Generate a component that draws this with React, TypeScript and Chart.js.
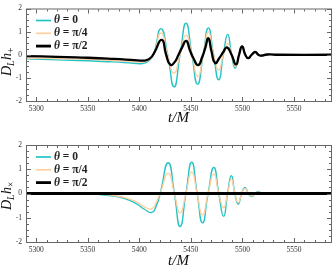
import React, { useEffect, useRef } from "react";
import { Chart, registerables } from "chart.js";
Chart.register(...registerables);

const SERIF = "'Liberation Serif', 'DejaVu Serif', serif";
const X_MIN = 5290;
const X_MAX = 5586;
const xTicks = [5300, 5350, 5400, 5450, 5500, 5550];
const yTicks = [-2, -1, 0, 1, 2];
const seriesLabels = ["θ = 0", "θ = π/4", "θ = π/2"];
const seriesColors = ["#25c3c5", "#ffcf9f", "#000000"];

// ---- top panel: D_L h_+ ----
const tPlus0 = [5290, 5320, 5350, 5375, 5395, 5403, 5409, 5413.6, 5421, 5427.5, 5433.7, 5439.5, 5445.3, 5451, 5456.5, 5462, 5467, 5472, 5477, 5481.5, 5485.8, 5489.5, 5493, 5496.5, 5499.7, 5503, 5505.8, 5509, 5512.5, 5515.5, 5518, 5524, 5535, 5586];
const hPlus0 = [-0.18, -0.22, -0.26, -0.31, -0.37, -0.38, -0.27, 0, 1.13, 0, -1.39, 0, 1.36, 0, -1.27, 0, 1.16, 0, -1.08, 0, 0.88, 0, -0.58, 0, 0.37, 0, -0.13, 0, 0.12, 0, -0.05, 0.01, 0, 0];

const tPlus1 = [5290, 5320, 5350, 5375, 5395, 5403, 5409, 5413.8, 5421, 5427.5, 5433.5, 5439.5, 5445.3, 5451, 5456.7, 5462, 5467, 5472, 5477, 5481.5, 5485.7, 5489.5, 5493.3, 5496.6, 5499.7, 5503, 5505.8, 5509, 5512.5, 5515.5, 5518, 5524, 5535, 5586];
const hPlus1 = [-0.14, -0.17, -0.2, -0.25, -0.3, -0.31, -0.23, 0, 0.95, 0, -0.8, 0, 0.85, 0, -0.94, 0, 0.99, 0, -0.66, 0, 0.48, 0, -0.5, 0, 0.36, 0, -0.14, 0, 0.11, 0, -0.04, 0.01, 0, 0];

const tPlus2 = [5290, 5320, 5350, 5375, 5398, 5405, 5410, 5414, 5421.7, 5426, 5430, 5434, 5438, 5441.5, 5445.5, 5449, 5452.5, 5457, 5461, 5464, 5467, 5470, 5473.5, 5477.5, 5481.5, 5485, 5489.5, 5493.8, 5496.8, 5499.7, 5502.8, 5505.6, 5509, 5512.5, 5515.5, 5518, 5524, 5535, 5586];
const hPlus2 = [-0.06, -0.09, -0.13, -0.18, -0.24, -0.25, -0.17, 0.05, 0.64, 0, -0.43, -0.33, 0, 0.32, 0.6, 0.2, -0.15, -0.45, -0.1, 0.3, 0.71, 0.15, -0.36, -0.15, 0.12, 0.32, 0, -0.42, 0, 0.36, 0, -0.15, 0, 0.12, 0, -0.04, 0.01, 0, 0];

// ---- bottom panel: D_L h_x ----
const tCross = [5290, 5340, 5355, 5370, 5385, 5397, 5405, 5412, 5416.5, 5420.2, 5428, 5434, 5439.5, 5445.2, 5450.8, 5456.1, 5461.3, 5466.7, 5472.3, 5477.1, 5481.8, 5485.6, 5489.3, 5492.7, 5496, 5499.3, 5502.6, 5505.8, 5509, 5512.3, 5515.5, 5518.7, 5522, 5530, 5586];
const hCross0 = [0, 0, -0.02, -0.08, -0.2, -0.42, -0.65, -0.78, -0.5, 0, 1.27, 0, -1.36, 0, 1.29, 0, -1.21, 0, 1.07, 0, -0.94, 0, 0.73, 0, -0.44, 0, 0.25, 0, -0.13, 0, 0.08, 0, -0.03, 0, 0];
const hCross1 = [0, 0, -0.01, -0.06, -0.16, -0.34, -0.55, -0.63, -0.35, 0, 0.84, 0, -0.8, 0, 0.89, 0, -0.89, 0, 0.8, 0, -0.58, 0, 0.59, 0, -0.37, 0, 0.21, 0, -0.11, 0, 0.07, 0, -0.03, 0, 0];
const tCross2 = [5290, 5586];
const hCross2 = [0, 0];

const FRAME = "#666666";

type PanelCfg = {
  series: [number[], number[]][];
  widths: number[];
  sub: string;
  padTop: number;
  xAxisH: number;
  yTitleStart: number;
  xTitleY: number;
};

function makeDecor(cfg: PanelCfg) {
  return {
    id: "decor",
    afterDatasetsDraw(chart: any) {
      const { ctx, chartArea: a, scales } = chart;
      const xs = scales.x;
      const ys = scales.y;
      ctx.save();
      ctx.strokeStyle = FRAME;
      ctx.lineWidth = 1;
      ctx.strokeRect(a.left + 0.5, a.top + 0.5, a.right - a.left, a.bottom - a.top);
      ctx.beginPath();
      for (let v = Math.ceil(X_MIN / 10) * 10; v <= X_MAX; v += 10) {
        const px = Math.round(xs.getPixelForValue(v)) + 0.5;
        const len = v % 50 === 0 ? 4 : 2;
        ctx.moveTo(px, a.bottom);
        ctx.lineTo(px, a.bottom - len);
        ctx.moveTo(px, a.top + 1);
        ctx.lineTo(px, a.top + 1 + len);
      }
      for (let k = -8; k <= 8; k++) {
        const v = k / 4;
        const py = Math.round(ys.getPixelForValue(v)) + 0.5;
        const len = k % 4 === 0 ? 4 : 2;
        ctx.moveTo(a.left + 1, py);
        ctx.lineTo(a.left + 1 + len, py);
        ctx.moveTo(a.right, py);
        ctx.lineTo(a.right - len, py);
      }
      ctx.stroke();

      // legend
      const ds = chart.data.datasets;
      ds.forEach((d: any, i: number) => {
        const y = a.top + 12 + i * 12.8;
        ctx.strokeStyle = d.borderColor;
        ctx.lineWidth = i === 2 ? 2.8 : 1.7;
        ctx.beginPath();
        ctx.moveTo(a.left + 10, y);
        ctx.lineTo(a.left + 25, y);
        ctx.stroke();
        const label: string = d.label;
        ctx.fillStyle = "#222";
        ctx.textBaseline = "middle";
        ctx.textAlign = "left";
        ctx.font = `italic bold 11.5px ${SERIF}`;
        let x = a.left + 28;
        ctx.fillText(label[0], x, y);
        x += ctx.measureText(label[0]).width;
        ctx.font = `bold 11.5px ${SERIF}`;
        ctx.fillText(label.slice(1), x, y);
      });

      // y title
      ctx.save();
      ctx.translate(11, cfg.yTitleStart);
      ctx.rotate(-Math.PI / 2);
      ctx.fillStyle = "#111";
      ctx.textBaseline = "alphabetic";
      ctx.textAlign = "left";
      let x = 0;
      ctx.font = `italic 14px ${SERIF}`;
      ctx.fillText("D", x, 0);
      x += ctx.measureText("D").width;
      ctx.font = `italic 9.5px ${SERIF}`;
      ctx.fillText("L", x, 3);
      x += ctx.measureText("L").width + 0.5;
      ctx.font = `italic 14px ${SERIF}`;
      ctx.fillText("h", x, 0);
      x += ctx.measureText("h").width;
      ctx.font = `9.5px ${SERIF}`;
      ctx.fillText(cfg.sub, x, 3);
      ctx.restore();

      // x title
      ctx.fillStyle = "#111";
      ctx.font = `italic 15px ${SERIF}`;
      ctx.textAlign = "center";
      ctx.textBaseline = "middle";
      ctx.fillText("t/M", (a.left + a.right) / 2, cfg.xTitleY);
      ctx.restore();
    },
  };
}

function Panel({ cfg, height }: { cfg: PanelCfg; height: number }) {
  const ref = useRef<HTMLCanvasElement>(null);
  useEffect(() => {
    if (!ref.current) return;
    const datasets = cfg.series.map(([t, h], i) => ({
      label: seriesLabels[i],
      data: t.map((x, j) => ({ x, y: h[j] })),
      borderColor: seriesColors[i],
      borderWidth: cfg.widths[i],
      pointRadius: 0,
      fill: false,
      tension: 0.55,
      order: 3 - i,
    }));
    const chart = new Chart(ref.current, {
      type: "line",
      data: { datasets },
      options: {
        animation: false,
        responsive: false,
        maintainAspectRatio: false,
        layout: { padding: { top: cfg.padTop, right: 1, left: 0, bottom: 0 } },
        plugins: { legend: { display: false }, tooltip: { enabled: false } },
        scales: {
          x: {
            type: "linear",
            min: X_MIN,
            max: X_MAX,
            grid: { display: false, drawTicks: false },
            border: { display: false },
            ticks: {
              font: { family: SERIF, size: 7.5 },
              color: "#333",
              padding: 4,
              maxRotation: 0,
              callback: (v: any) => String(v),
            },
            afterBuildTicks: (s: any) => {
              s.ticks = xTicks.map((v) => ({ value: v }));
            },
            afterFit: (s: any) => {
              s.height = cfg.xAxisH;
            },
          },
          y: {
            type: "linear",
            min: -2,
            max: 2,
            grid: { display: false, drawTicks: false },
            border: { display: false },
            ticks: {
              font: { family: SERIF, size: 7.5 },
              color: "#333",
              padding: 4,
              callback: (v: any) => String(v),
            },
            afterBuildTicks: (s: any) => {
              s.ticks = yTicks.map((v) => ({ value: v }));
            },
            afterFit: (s: any) => {
              s.width = 26;
            },
          },
        },
      },
      plugins: [makeDecor(cfg)],
    });
    return () => chart.destroy();
  }, []);
  return <canvas ref={ref} width={332} height={height} style={{ display: "block" }} />;
}

const topCfg: PanelCfg = {
  series: [
    [tPlus0, hPlus0],
    [tPlus1, hPlus1],
    [tPlus2, hPlus2],
  ],
  widths: [1.4, 1.3, 2.3],
  sub: "+",
  padTop: 4,
  xAxisH: 33,
  yTitleStart: 76,
  xTitleY: 118,
};

const bottomCfg: PanelCfg = {
  series: [
    [tCross, hCross0],
    [tCross, hCross1],
    [tCross2, hCross2],
  ],
  widths: [1.4, 1.3, 2.8],
  sub: "×",
  padTop: 11,
  xAxisH: 27,
  yTitleStart: 210 - 134,
  xTitleY: 127,
};

export default function App() {
  useEffect(() => {
    document.body.style.margin = "0";
  }, []);
  return (
    <div style={{ width: 332, height: 269, background: "#fff" }}>
      <Panel cfg={topCfg} height={134} />
      <Panel cfg={bottomCfg} height={135} />
    </div>
  );
}
